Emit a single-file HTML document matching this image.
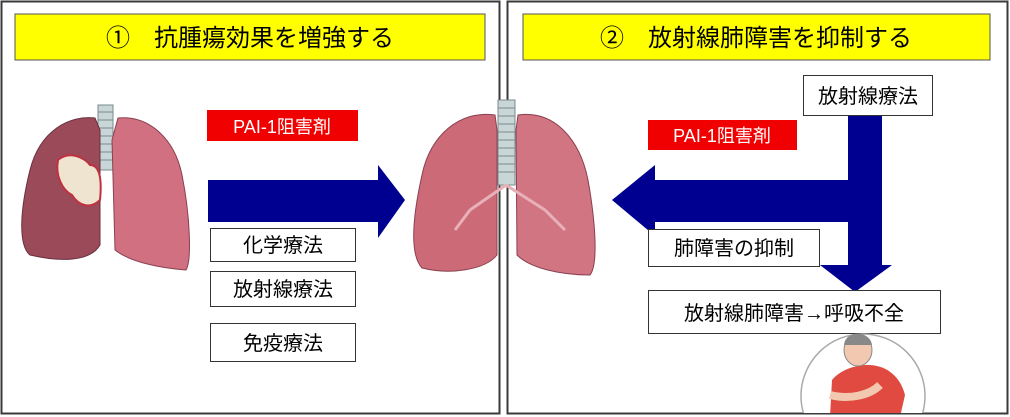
<!DOCTYPE html>
<html><head><meta charset="utf-8"><style>
html,body{margin:0;padding:0;background:#fff;width:1010px;height:417px;overflow:hidden}
svg{display:block;position:absolute;left:0;top:0}
text{font-family:"Liberation Sans","Noto Sans CJK JP",sans-serif}
</style></head><body>
<svg width="1010" height="416" viewBox="0 0 1010 416">
<defs><clipPath id="c"><rect x="0" y="0" width="1006" height="413"/></clipPath></defs>
<rect x="1.5" y="1.5" width="498" height="412" fill="#fff" stroke="#3a3a3a" stroke-width="2"/>
<rect x="507.5" y="1.5" width="500" height="412" fill="#fff" stroke="#3a3a3a" stroke-width="2"/>
<rect x="15" y="14" width="470" height="46" fill="#ffff00" stroke="#555" stroke-width="1"/>
<text x="250" y="46" font-size="24" text-anchor="middle">①　抗腫瘍効果を増強する</text>
<rect x="523" y="14" width="467" height="46" fill="#ffff00" stroke="#555" stroke-width="1"/>
<text x="756" y="46" font-size="24" text-anchor="middle">②　放射線肺障害を抑制する</text>

<rect x="98" y="105" width="15" height="65" fill="#c9d6d8" stroke="#7a8a8c"/>
<g stroke="#7a8a8c" stroke-width="1">
<line x1="98" y1="112" x2="113" y2="112"/><line x1="98" y1="120" x2="113" y2="120"/><line x1="98" y1="128" x2="113" y2="128"/><line x1="98" y1="136" x2="113" y2="136"/><line x1="98" y1="144" x2="113" y2="144"/><line x1="98" y1="152" x2="113" y2="152"/><line x1="98" y1="160" x2="113" y2="160"/></g>
<path d="M95 118 C70 115 40 130 30 170 C20 210 18 245 30 255 C60 262 90 262 100 245 L100 130 Z" fill="#9b4a5a" stroke="#6a3040"/>
<path d="M118 118 C150 115 175 140 182 175 C190 215 192 260 186 270 C160 268 130 262 115 250 L112 140 Z" fill="#d07080" stroke="#8a4050"/>
<path d="M58 160 C70 150 85 158 90 165 C100 165 102 180 100 200 C90 210 78 205 72 195 C62 190 55 175 58 160 Z" fill="#eee4d0" stroke="#c03040" stroke-width="2"/>

<rect x="498" y="100" width="17" height="85" fill="#c9d6d8" stroke="#7a8a8c"/>
<g stroke="#7a8a8c"><line x1="498" y1="108" x2="515" y2="108"/><line x1="498" y1="116" x2="515" y2="116"/><line x1="498" y1="124" x2="515" y2="124"/><line x1="498" y1="132" x2="515" y2="132"/><line x1="498" y1="140" x2="515" y2="140"/><line x1="498" y1="148" x2="515" y2="148"/><line x1="498" y1="156" x2="515" y2="156"/><line x1="498" y1="164" x2="515" y2="164"/><line x1="498" y1="172" x2="515" y2="172"/></g>
<path d="M495 115 C460 110 430 135 422 175 C412 220 410 255 422 268 C450 275 485 270 497 255 L497 130 Z" fill="#cd6a78" stroke="#8a4050"/>
<path d="M518 115 C555 110 580 140 588 180 C596 225 598 265 590 275 C560 275 530 268 517 255 L516 130 Z" fill="#d27582" stroke="#8a4050"/>
<path d="M506 185 L470 210 M506 185 L545 210 M470 210 L455 230 M545 210 L565 230" stroke="#e8b0b8" stroke-width="3" fill="none"/>

<polygon points="208,180 378,180 378,165 405,200 378,238 378,222 208,222" fill="#000090"/>
<polygon points="612,200 655,165 655,180 848,180 848,112 882,112 882,265 892,265 855,292 820,265 848,265 848,222 655,222 655,236" fill="#000090"/>

<rect x="207" y="110" width="151" height="31" fill="#f00000"/>
<text x="282" y="133" font-size="18" fill="#fff" text-anchor="middle">PAI-1阻害剤</text>
<rect x="648" y="120" width="149" height="30" fill="#f00000"/>
<text x="722" y="142" font-size="18" fill="#fff" text-anchor="middle">PAI-1阻害剤</text>

<g fill="#fff" stroke="#333" stroke-width="1">
<rect x="210.5" y="228.5" width="145" height="33"/>
<rect x="210.5" y="271.5" width="145" height="35"/>
<rect x="210.5" y="323.5" width="145" height="38"/>
<rect x="803.5" y="75.5" width="129" height="40"/>
<rect x="648.5" y="229.5" width="171" height="37"/>
<rect x="648.5" y="290.5" width="292" height="43"/>
</g>
<g font-size="20" text-anchor="middle">
<text x="283" y="252">化学療法</text>
<text x="283" y="296">放射線療法</text>
<text x="283" y="350">免疫療法</text>
<text x="868" y="103">放射線療法</text>
<text x="734" y="255">肺障害の抑制</text>
<text x="794" y="320">放射線肺障害→呼吸不全</text>
</g>

<g clip-path="url(#c)">
<circle cx="863" cy="396" r="62" fill="#fff" stroke="#aaa" stroke-width="1.5"/>
<path d="M830 417 L832 380 C840 370 855 365 868 365 C885 365 900 375 905 395 L900 417 Z" fill="#e04a40"/>
<ellipse cx="858" cy="350" rx="14" ry="16" fill="#f2c9b0" stroke="#888"/>
<path d="M844 345 C845 330 870 330 872 345" fill="#888"/>
<path d="M830 395 C850 400 870 395 880 385" stroke="#f2c9b0" stroke-width="8" fill="none"/>
</g>
</svg>
</body></html>
